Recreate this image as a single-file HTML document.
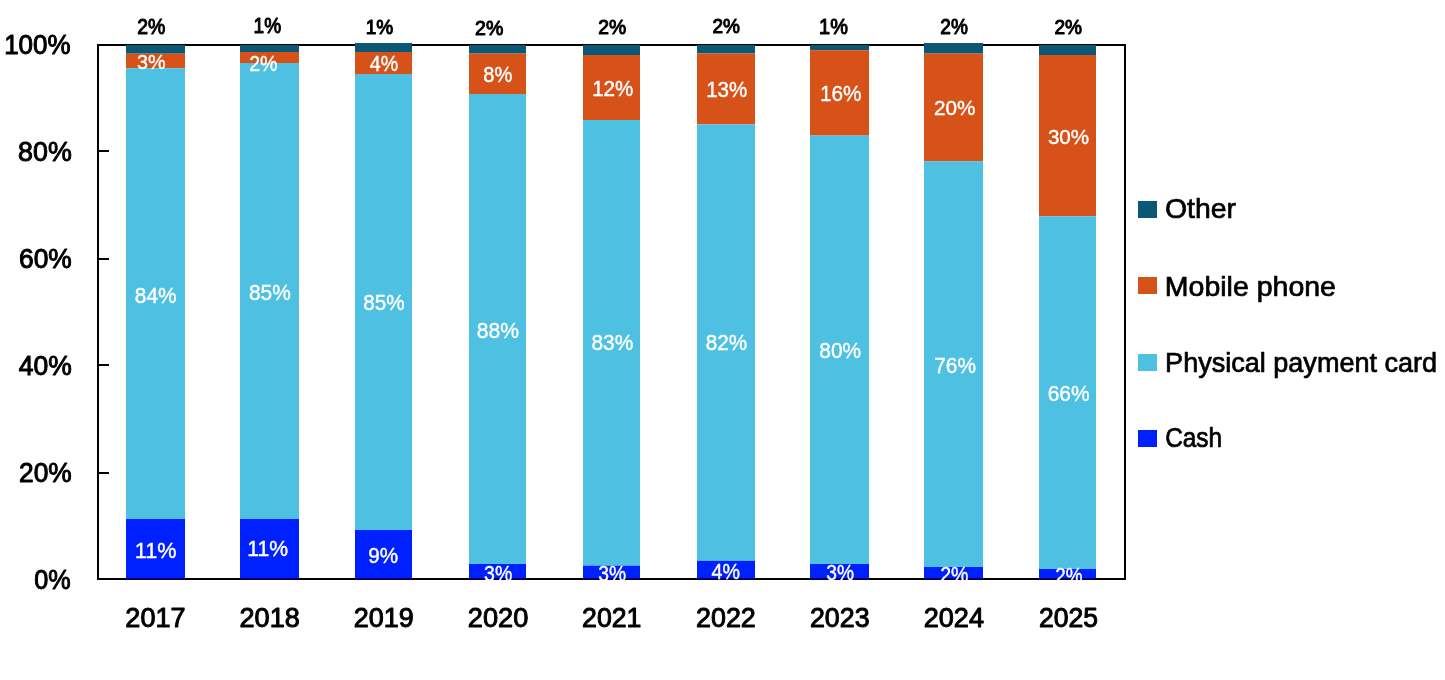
<!DOCTYPE html><html><head><meta charset="utf-8"><style>html,body{margin:0;padding:0;background:#fff;}body{width:1445px;height:680px;overflow:hidden;}svg{display:block;will-change:transform;}text{font-family:"Liberation Sans",sans-serif;}</style></head><body>
<svg width="1445" height="680" viewBox="0 0 1445 680">
<defs><clipPath id="pc"><rect x="0" y="0" width="1445" height="580"/></clipPath></defs>
<rect x="0" y="0" width="1445" height="680" fill="#fff"/>
<rect x="98" y="45" width="1027" height="534" fill="none" stroke="#000" stroke-width="2"/>
<rect x="99" y="150" width="10" height="2" fill="#000"/>
<rect x="99" y="258" width="10" height="2" fill="#000"/>
<rect x="99" y="364" width="10" height="2" fill="#000"/>
<rect x="99" y="472" width="10" height="2" fill="#000"/>
<rect x="126" y="45" width="59" height="8.70" fill="#0b5776"/>
<rect x="126" y="53.7" width="59" height="14.50" fill="#d65219"/>
<rect x="126" y="68.2" width="59" height="450.80" fill="#4ec1e3"/>
<rect x="126" y="519" width="59" height="59.00" fill="#0021ff"/>
<rect x="126" y="578" width="59" height="2" fill="#00005c"/>
<rect x="240" y="45" width="59" height="7.00" fill="#0b5776"/>
<rect x="240" y="52" width="59" height="11.00" fill="#d65219"/>
<rect x="240" y="63" width="59" height="456.00" fill="#4ec1e3"/>
<rect x="240" y="519" width="59" height="59.00" fill="#0021ff"/>
<rect x="240" y="578" width="59" height="2" fill="#00005c"/>
<rect x="355" y="43" width="57" height="9.00" fill="#0b5776"/>
<rect x="355" y="52" width="57" height="22.00" fill="#d65219"/>
<rect x="355" y="74" width="57" height="456.00" fill="#4ec1e3"/>
<rect x="355" y="530" width="57" height="48.00" fill="#0021ff"/>
<rect x="355" y="578" width="57" height="2" fill="#00005c"/>
<rect x="469" y="45" width="57" height="8.60" fill="#0b5776"/>
<rect x="469" y="53.6" width="57" height="40.40" fill="#d65219"/>
<rect x="469" y="94" width="57" height="470.00" fill="#4ec1e3"/>
<rect x="469" y="564" width="57" height="14.00" fill="#0021ff"/>
<rect x="469" y="578" width="57" height="2" fill="#00005c"/>
<rect x="583" y="45" width="57" height="10.00" fill="#0b5776"/>
<rect x="583" y="55" width="57" height="65.00" fill="#d65219"/>
<rect x="583" y="120" width="57" height="445.60" fill="#4ec1e3"/>
<rect x="583" y="565.6" width="57" height="12.40" fill="#0021ff"/>
<rect x="583" y="578" width="57" height="2" fill="#00005c"/>
<rect x="697" y="45" width="58" height="8.50" fill="#0b5776"/>
<rect x="697" y="53.5" width="58" height="70.90" fill="#d65219"/>
<rect x="697" y="124.4" width="58" height="436.40" fill="#4ec1e3"/>
<rect x="697" y="560.8" width="58" height="17.20" fill="#0021ff"/>
<rect x="697" y="578" width="58" height="2" fill="#00005c"/>
<rect x="810" y="45" width="59" height="5.20" fill="#0b5776"/>
<rect x="810" y="50.2" width="59" height="85.40" fill="#d65219"/>
<rect x="810" y="135.6" width="59" height="428.40" fill="#4ec1e3"/>
<rect x="810" y="564" width="59" height="14.00" fill="#0021ff"/>
<rect x="810" y="578" width="59" height="2" fill="#00005c"/>
<rect x="924" y="43" width="59" height="10.60" fill="#0b5776"/>
<rect x="924" y="53.6" width="59" height="107.60" fill="#d65219"/>
<rect x="924" y="161.2" width="59" height="405.80" fill="#4ec1e3"/>
<rect x="924" y="567" width="59" height="11.00" fill="#0021ff"/>
<rect x="924" y="578" width="59" height="2" fill="#00005c"/>
<rect x="1039" y="45" width="57" height="10.00" fill="#0b5776"/>
<rect x="1039" y="55" width="57" height="161.20" fill="#d65219"/>
<rect x="1039" y="216.2" width="57" height="352.80" fill="#4ec1e3"/>
<rect x="1039" y="569" width="57" height="9.00" fill="#0021ff"/>
<rect x="1039" y="578" width="57" height="2" fill="#00005c"/>
<rect x="1138" y="201" width="19" height="17" fill="#0b5776"/>
<rect x="1138" y="277" width="19" height="17" fill="#d65219"/>
<rect x="1138" y="354" width="19" height="17" fill="#4ec1e3"/>
<rect x="1138" y="430" width="19" height="17" fill="#0021ff"/>
<g><text transform="matrix(0.25959 0 0 0.27887 4.15 53.72)" font-size="100" fill="#000" stroke="#000" stroke-width="3.714" stroke-linejoin="round">100%</text></g>
<g><text transform="matrix(0.26823 0 0 0.27746 18.09 160.72)" font-size="100" fill="#000" stroke="#000" stroke-width="3.665" stroke-linejoin="round">80%</text></g>
<g><text transform="matrix(0.26371 0 0 0.27887 18.98 267.92)" font-size="100" fill="#000" stroke="#000" stroke-width="3.686" stroke-linejoin="round">60%</text></g>
<g><text transform="matrix(0.26495 0 0 0.27746 18.74 374.92)" font-size="100" fill="#000" stroke="#000" stroke-width="3.687" stroke-linejoin="round">40%</text></g>
<g><text transform="matrix(0.26371 0 0 0.27887 18.98 482.02)" font-size="100" fill="#000" stroke="#000" stroke-width="3.686" stroke-linejoin="round">20%</text></g>
<g><text transform="matrix(0.25182 0 0 0.27887 34.19 588.72)" font-size="100" fill="#000" stroke="#000" stroke-width="3.769" stroke-linejoin="round">0%</text></g>
<g><text transform="matrix(0.27059 0 0 0.27324 125.35 627.43)" font-size="100" fill="#000" stroke="#000" stroke-width="3.678" stroke-linejoin="round">2017</text></g>
<g><text transform="matrix(0.27119 0 0 0.27324 239.54 627.43)" font-size="100" fill="#000" stroke="#000" stroke-width="3.674" stroke-linejoin="round">2018</text></g>
<g><text transform="matrix(0.26995 0 0 0.27324 353.85 627.43)" font-size="100" fill="#000" stroke="#000" stroke-width="3.682" stroke-linejoin="round">2019</text></g>
<g><text transform="matrix(0.27213 0 0 0.27324 467.84 627.43)" font-size="100" fill="#000" stroke="#000" stroke-width="3.667" stroke-linejoin="round">2020</text></g>
<g><text transform="matrix(0.26682 0 0 0.27324 582.07 627.43)" font-size="100" fill="#000" stroke="#000" stroke-width="3.703" stroke-linejoin="round">2021</text></g>
<g><text transform="matrix(0.26918 0 0 0.27324 695.95 627.43)" font-size="100" fill="#000" stroke="#000" stroke-width="3.687" stroke-linejoin="round">2022</text></g>
<g><text transform="matrix(0.26808 0 0 0.27324 809.96 627.43)" font-size="100" fill="#000" stroke="#000" stroke-width="3.695" stroke-linejoin="round">2023</text></g>
<g><text transform="matrix(0.27086 0 0 0.27324 923.75 627.43)" font-size="100" fill="#000" stroke="#000" stroke-width="3.676" stroke-linejoin="round">2024</text></g>
<g><text transform="matrix(0.26557 0 0 0.27324 1038.97 627.43)" font-size="100" fill="#000" stroke="#000" stroke-width="3.712" stroke-linejoin="round">2025</text></g>
<g><text transform="matrix(0.19412 0 0 0.21277 137.13 33.69)" font-size="100" fill="#000" stroke="#000" stroke-width="4.915" stroke-linejoin="round">2%</text></g>
<g><text transform="matrix(0.19026 0 0 0.21429 253.57 33.29)" font-size="100" fill="#000" stroke="#000" stroke-width="4.944" stroke-linejoin="round">1%</text></g>
<g><text transform="matrix(0.19026 0 0 0.20857 365.67 34.30)" font-size="100" fill="#000" stroke="#000" stroke-width="5.015" stroke-linejoin="round">1%</text></g>
<g><text transform="matrix(0.19559 0 0 0.20709 475.12 35.40)" font-size="100" fill="#000" stroke="#000" stroke-width="4.967" stroke-linejoin="round">2%</text></g>
<g><text transform="matrix(0.19338 0 0 0.20709 598.23 34.30)" font-size="100" fill="#000" stroke="#000" stroke-width="4.994" stroke-linejoin="round">2%</text></g>
<g><text transform="matrix(0.19044 0 0 0.20709 712.45 33.30)" font-size="100" fill="#000" stroke="#000" stroke-width="5.031" stroke-linejoin="round">2%</text></g>
<g><text transform="matrix(0.19925 0 0 0.21429 819.11 33.69)" font-size="100" fill="#000" stroke="#000" stroke-width="4.836" stroke-linejoin="round">1%</text></g>
<g><text transform="matrix(0.19044 0 0 0.21277 940.35 33.69)" font-size="100" fill="#000" stroke="#000" stroke-width="4.960" stroke-linejoin="round">2%</text></g>
<g><text transform="matrix(0.19118 0 0 0.20709 1054.44 34.30)" font-size="100" fill="#000" stroke="#000" stroke-width="5.022" stroke-linejoin="round">2%</text></g>
<g><text transform="matrix(0.19781 0 0 0.21127 137.01 69.29)" font-size="100" fill="#fff" stroke="#fff" stroke-width="1.956" stroke-linejoin="round">3%</text></g>
<g><text transform="matrix(0.19559 0 0 0.22411 249.22 70.89)" font-size="100" fill="#fff" stroke="#fff" stroke-width="1.906" stroke-linejoin="round">2%</text></g>
<g><text transform="matrix(0.19639 0 0 0.22286 369.71 70.69)" font-size="100" fill="#fff" stroke="#fff" stroke-width="1.908" stroke-linejoin="round">4%</text></g>
<g><text transform="matrix(0.20073 0 0 0.21831 483.30 81.78)" font-size="100" fill="#fff" stroke="#fff" stroke-width="1.909" stroke-linejoin="round">8%</text></g>
<g><text transform="matrix(0.20582 0 0 0.21418 592.16 95.89)" font-size="100" fill="#fff" stroke="#fff" stroke-width="1.905" stroke-linejoin="round">12%</text></g>
<g><text transform="matrix(0.20582 0 0 0.22254 706.16 97.18)" font-size="100" fill="#fff" stroke="#fff" stroke-width="1.868" stroke-linejoin="round">13%</text></g>
<g><text transform="matrix(0.20741 0 0 0.22254 820.04 101.08)" font-size="100" fill="#fff" stroke="#fff" stroke-width="1.861" stroke-linejoin="round">16%</text></g>
<g><text transform="matrix(0.20731 0 0 0.20845 933.96 115.49)" font-size="100" fill="#fff" stroke="#fff" stroke-width="1.924" stroke-linejoin="round">20%</text></g>
<g><text transform="matrix(0.20623 0 0 0.21127 1047.88 143.89)" font-size="100" fill="#fff" stroke="#fff" stroke-width="1.916" stroke-linejoin="round">30%</text></g>
<g><text transform="matrix(0.20833 0 0 0.22817 134.86 303.17)" font-size="100" fill="#fff" stroke="#fff" stroke-width="1.833" stroke-linejoin="round">84%</text></g>
<g><text transform="matrix(0.20885 0 0 0.21972 248.96 300.08)" font-size="100" fill="#fff" stroke="#fff" stroke-width="1.867" stroke-linejoin="round">85%</text></g>
<g><text transform="matrix(0.20677 0 0 0.21972 363.17 310.08)" font-size="100" fill="#fff" stroke="#fff" stroke-width="1.876" stroke-linejoin="round">85%</text></g>
<g><text transform="matrix(0.21094 0 0 0.22817 476.85 337.97)" font-size="100" fill="#fff" stroke="#fff" stroke-width="1.822" stroke-linejoin="round">88%</text></g>
<g><text transform="matrix(0.20885 0 0 0.21408 591.46 350.49)" font-size="100" fill="#fff" stroke="#fff" stroke-width="1.892" stroke-linejoin="round">83%</text></g>
<g><text transform="matrix(0.20677 0 0 0.21408 705.67 350.49)" font-size="100" fill="#fff" stroke="#fff" stroke-width="1.901" stroke-linejoin="round">82%</text></g>
<g><text transform="matrix(0.20937 0 0 0.22817 819.26 357.97)" font-size="100" fill="#fff" stroke="#fff" stroke-width="1.828" stroke-linejoin="round">80%</text></g>
<g><text transform="matrix(0.20888 0 0 0.22817 934.16 373.17)" font-size="100" fill="#fff" stroke="#fff" stroke-width="1.830" stroke-linejoin="round">76%</text></g>
<g><text transform="matrix(0.20940 0 0 0.22254 1047.65 400.78)" font-size="100" fill="#fff" stroke="#fff" stroke-width="1.852" stroke-linejoin="round">66%</text></g>
<g clip-path="url(#pc)"><text transform="matrix(0.21648 0 0 0.21571 134.78 557.69)" font-size="100" fill="#fff" stroke="#fff" stroke-width="1.851" stroke-linejoin="round">11%</text></g>
<g clip-path="url(#pc)"><text transform="matrix(0.21209 0 0 0.22286 247.31 556.09)" font-size="100" fill="#fff" stroke="#fff" stroke-width="1.839" stroke-linejoin="round">11%</text></g>
<g clip-path="url(#pc)"><text transform="matrix(0.20659 0 0 0.21690 368.27 563.38)" font-size="100" fill="#fff" stroke="#fff" stroke-width="1.889" stroke-linejoin="round">9%</text></g>
<g clip-path="url(#pc)"><text transform="matrix(0.19489 0 0 0.21972 484.12 580.58)" font-size="100" fill="#fff" stroke="#fff" stroke-width="1.930" stroke-linejoin="round">3%</text></g>
<g clip-path="url(#pc)"><text transform="matrix(0.19270 0 0 0.21972 598.23 580.58)" font-size="100" fill="#fff" stroke="#fff" stroke-width="1.940" stroke-linejoin="round">3%</text></g>
<g clip-path="url(#pc)"><text transform="matrix(0.19711 0 0 0.22429 711.61 578.79)" font-size="100" fill="#fff" stroke="#fff" stroke-width="1.898" stroke-linejoin="round">4%</text></g>
<g clip-path="url(#pc)"><text transform="matrix(0.19197 0 0 0.21972 826.33 579.68)" font-size="100" fill="#fff" stroke="#fff" stroke-width="1.943" stroke-linejoin="round">3%</text></g>
<g clip-path="url(#pc)"><text transform="matrix(0.19559 0 0 0.22128 940.22 581.59)" font-size="100" fill="#fff" stroke="#fff" stroke-width="1.919" stroke-linejoin="round">2%</text></g>
<g clip-path="url(#pc)"><text transform="matrix(0.18897 0 0 0.22128 1055.16 582.69)" font-size="100" fill="#fff" stroke="#fff" stroke-width="1.950" stroke-linejoin="round">2%</text></g>
<g><text transform="matrix(0.28402 0 0 0.27619 1164.97 218.27)" font-size="100" fill="#000" stroke="#000" stroke-width="2.499" stroke-linejoin="round">Other</text></g>
<g><text transform="matrix(0.28486 0 0 0.28235 1164.87 295.72)" font-size="100" fill="#000" stroke="#000" stroke-width="2.468" stroke-linejoin="round">Mobile phone</text></g>
<g><text transform="matrix(0.27060 0 0 0.28128 1165.09 371.64)" font-size="100" fill="#000" stroke="#000" stroke-width="2.537" stroke-linejoin="round">Physical payment card</text></g>
<g><text transform="matrix(0.24414 0 0 0.27619 1165.13 447.27)" font-size="100" fill="#000" stroke="#000" stroke-width="2.691" stroke-linejoin="round">Cash</text></g>
</svg></body></html>
